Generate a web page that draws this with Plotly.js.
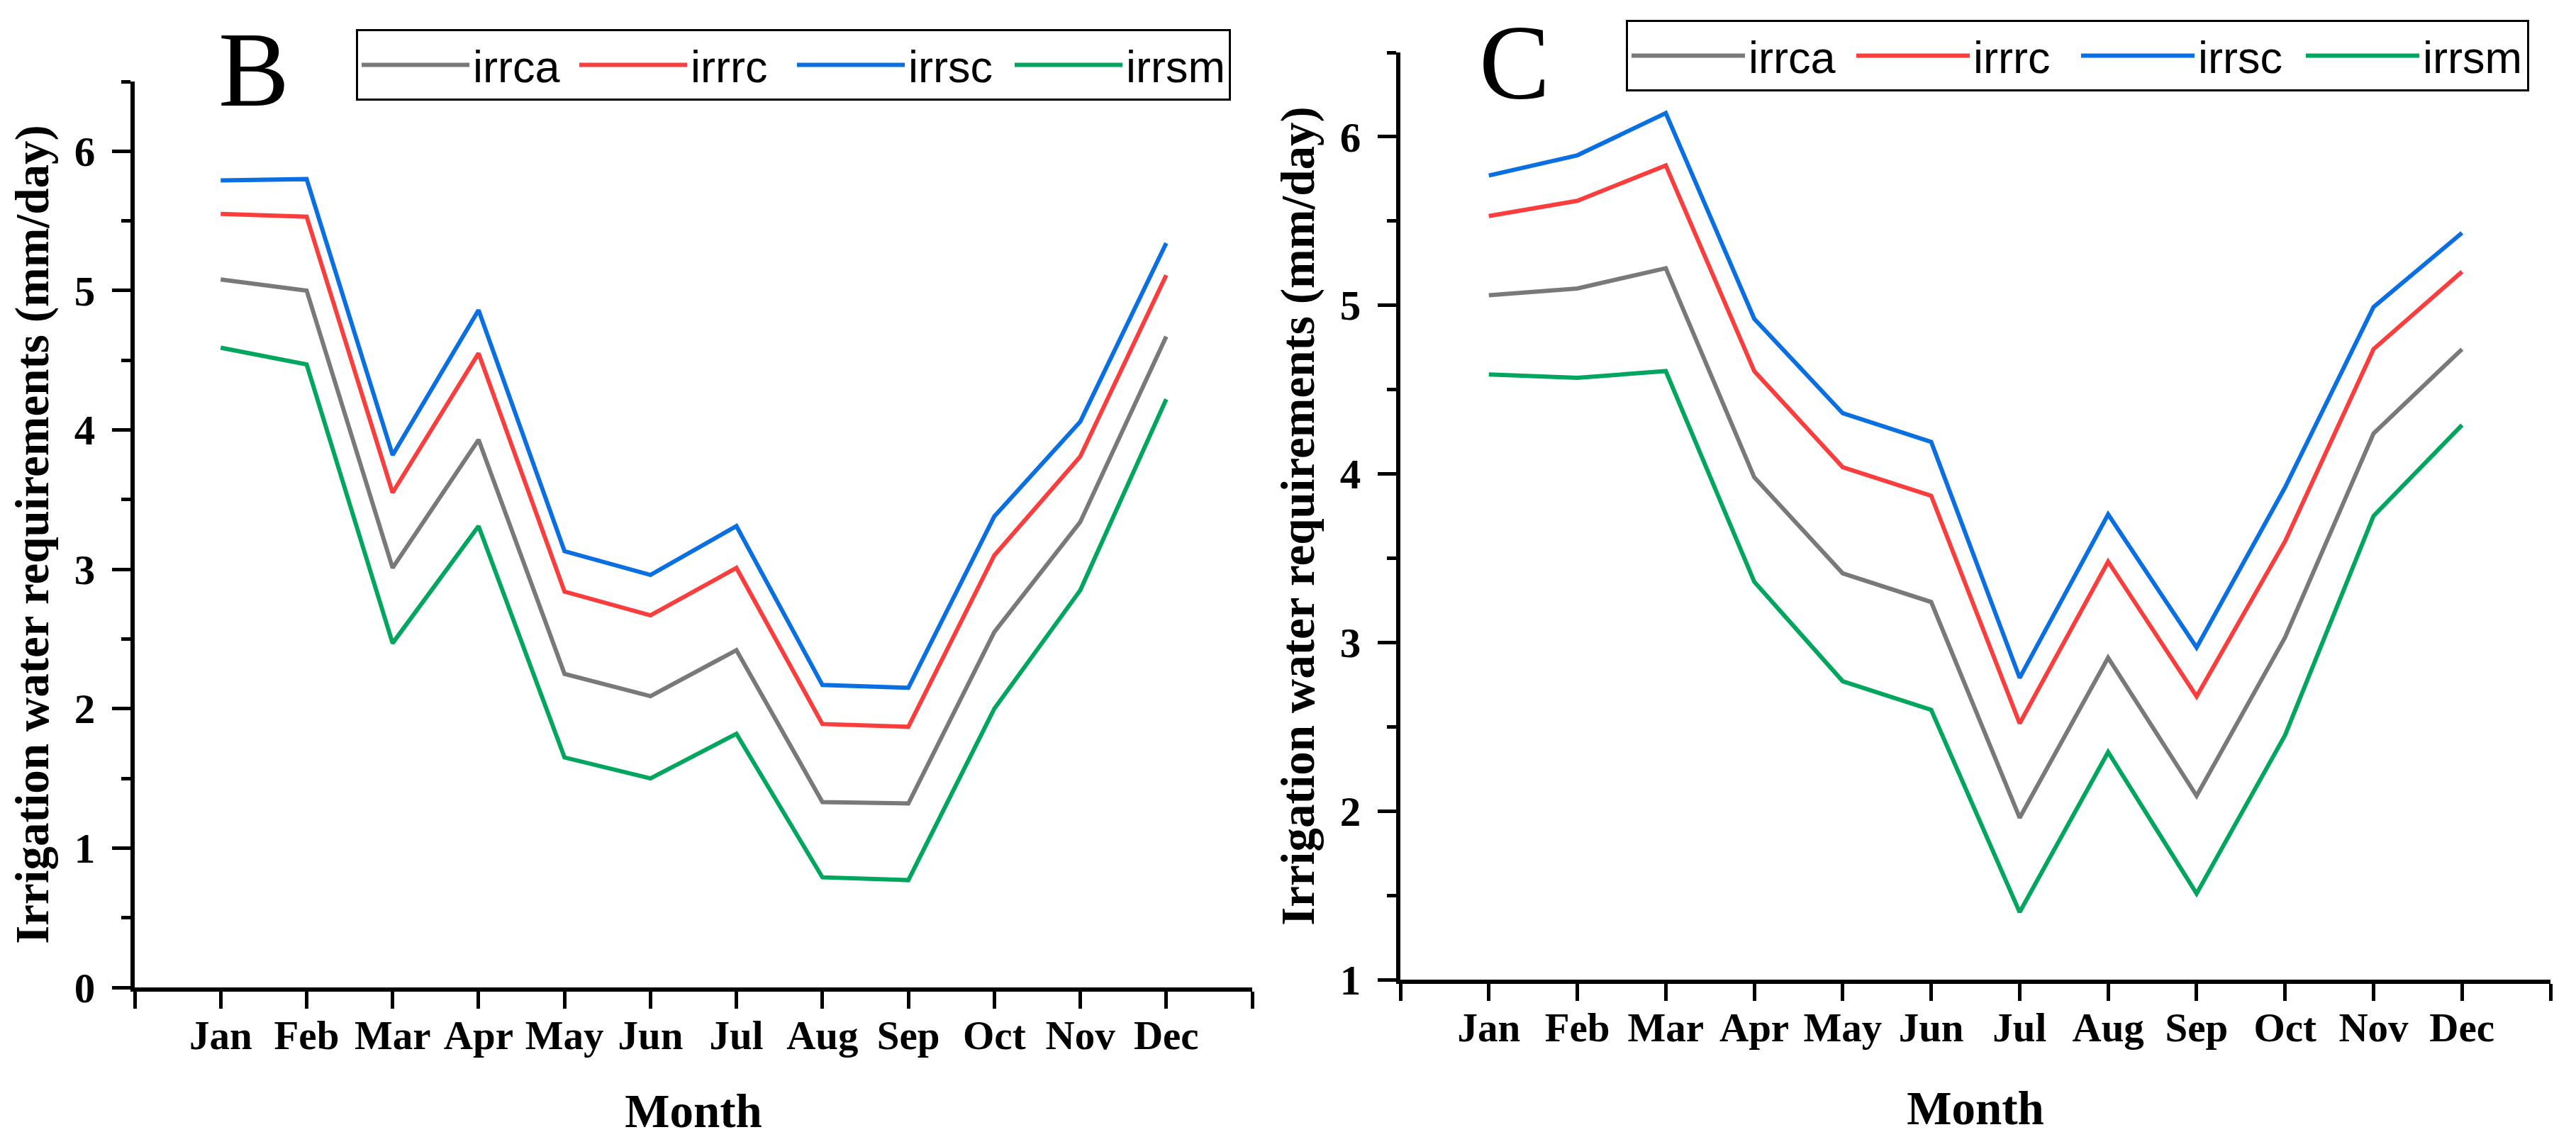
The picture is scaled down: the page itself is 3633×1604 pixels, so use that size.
<!DOCTYPE html>
<html>
<head>
<meta charset="utf-8">
<script src="https://cdn.plot.ly/plotly-3.0.1.min.js"></script>
<style>
  html, body { margin: 0; padding: 0; background: #ffffff; }
  #chart { width: 3633px; height: 1604px; }
</style>
</head>
<body>
<div id="chart"></div>
<script>
// ---------- data ----------
const months = ['Jan', 'Feb', 'Mar', 'Apr', 'May', 'Jun', 'Jul', 'Aug', 'Sep', 'Oct', 'Nov', 'Dec'];
const monthIndex = [1, 2, 3, 4, 5, 6, 7, 8, 9, 10, 11, 12];
const seriesNames = ['irrca', 'irrrc', 'irrsc', 'irrsm'];

// Panel B
const B_irrca = [5.08, 5.00, 3.01, 3.93, 2.25, 2.09, 2.42, 1.33, 1.32, 2.55, 3.34, 4.67];
const B_irrrc = [5.55, 5.53, 3.55, 4.55, 2.84, 2.67, 3.01, 1.89, 1.87, 3.10, 3.81, 5.11];
const B_irrsc = [5.79, 5.80, 3.82, 4.86, 3.13, 2.96, 3.31, 2.17, 2.15, 3.38, 4.06, 5.34];
const B_irrsm = [4.59, 4.47, 2.47, 3.31, 1.65, 1.50, 1.82, 0.79, 0.77, 2.00, 2.85, 4.22];

// Panel C
const C_irrca = [5.06, 5.10, 5.22, 3.98, 3.41, 3.24, 1.96, 2.91, 2.09, 3.03, 4.24, 4.74];
const C_irrrc = [5.53, 5.62, 5.83, 4.61, 4.04, 3.87, 2.52, 3.48, 2.68, 3.60, 4.74, 5.20];
const C_irrsc = [5.77, 5.89, 6.14, 4.92, 4.36, 4.19, 2.79, 3.76, 2.97, 3.92, 4.99, 5.43];
const C_irrsm = [4.59, 4.57, 4.61, 3.36, 2.77, 2.60, 1.40, 2.35, 1.51, 2.45, 3.75, 4.29];

const panelLabels = ['B', 'C'];
const xTitle = 'Month';
const yTitle = 'Irrigation water requirements (mm/day)';

// ---------- style ----------
const colors = ['#797979', '#FA3E3E', '#0A6FE0', '#00A65E'];
const W = 3633, H = 1604;
const serif = 'Liberation Serif, Times New Roman, serif';
const sans = 'Liberation Sans, Arial, sans-serif';

const xTickVals = [0].concat(monthIndex, [13]);
const xTickText = [''].concat(months, ['']);

function px(x) { return x / W; }
function py(y) { return (H - y) / H; }

const traces = [];
const panelData = [
  [B_irrca, B_irrrc, B_irrsc, B_irrsm],
  [C_irrca, C_irrrc, C_irrsc, C_irrsm]
];
panelData.forEach((set, p) => {
  set.forEach((vals, i) => {
    traces.push({
      type: 'scatter', mode: 'lines',
      x: monthIndex, y: vals,
      name: seriesNames[i],
      line: { color: colors[i], width: 6 },
      xaxis: p === 0 ? 'x' : 'x2',
      yaxis: p === 0 ? 'y' : 'y2',
      legend: p === 0 ? 'legend' : 'legend2',
      showlegend: true,
      hoverinfo: 'skip'
    });
  });
});

function xAxis(domain, anchor) {
  return {
    domain: domain, anchor: anchor,
    range: [0, 13],
    tickmode: 'array', tickvals: xTickVals, ticktext: xTickText,
    ticks: 'outside', ticklen: 24, tickwidth: 5, tickcolor: '#000',
    showline: true, linewidth: 6, linecolor: '#000',
    showgrid: false, zeroline: false,
    tickfont: { family: serif, size: 57, color: '#000', weight: 'bold' },
    ticklabelstandoff: -11,
    title: { text: xTitle, font: { family: serif, size: 67, color: '#000', weight: 'bold' }, standoff: 61 },
    automargin: false,
    fixedrange: true
  };
}
function yAxis(domain, anchor, range) {
  return {
    domain: domain, anchor: anchor,
    range: range,
    tickmode: 'linear', tick0: 0, dtick: 1,
    ticks: 'outside', ticklen: 26, tickwidth: 5, tickcolor: '#000',
    minor: { dtick: 0.5, ticks: 'outside', ticklen: 13, tickwidth: 5, tickcolor: '#000', showgrid: false },
    showline: true, linewidth: 6, linecolor: '#000',
    showgrid: false, zeroline: false,
    tickfont: { family: serif, size: 59, color: '#000', weight: 'bold' },
    ticklabelstandoff: 12,
    title: { text: yTitle, font: { family: serif, size: 67, color: '#000', weight: 'bold' }, standoff: 16 },
    automargin: false,
    fixedrange: true
  };
}

function legendCfg(x, y, iw, ew) {
  return {
    x: x, y: y, xanchor: 'left', yanchor: 'top',
    orientation: 'h',
    bgcolor: '#ffffff', bordercolor: '#000', borderwidth: 3,
    font: { family: sans, size: 63, color: '#000' },
    itemwidth: iw,
    entrywidth: ew, entrywidthmode: 'pixels',
    tracegroupgap: 0
  };
}

const layout = {
  width: W, height: H,
  margin: { l: 0, r: 0, t: 0, b: 0 },
  paper_bgcolor: '#ffffff', plot_bgcolor: '#ffffff',
  xaxis: xAxis([px(190), px(1766)], 'y'),
  yaxis: yAxis([py(1393), py(115)], 'x', [0, 6.5]),
  xaxis2: xAxis([px(1975), px(3597)], 'y2'),
  yaxis2: yAxis([py(1382), py(74)], 'x2', [1, 6.5]),
  legend: legendCfg(px(502), py(41), 152, 140),
  legend2: legendCfg(px(2293), py(28), 160, 142),
  annotations: [
    { text: panelLabels[0], x: px(358), y: py(98), xref: 'paper', yref: 'paper',
      xanchor: 'center', yanchor: 'middle', showarrow: false,
      font: { family: serif, size: 150, color: '#000' } },
    { text: panelLabels[1], x: px(2136), y: py(88), xref: 'paper', yref: 'paper',
      xanchor: 'center', yanchor: 'middle', showarrow: false,
      font: { family: serif, size: 150, color: '#000' } }
  ]
};

Plotly.newPlot('chart', traces, layout, { staticPlot: true, displayModeBar: false });
</script>
</body>
</html>
